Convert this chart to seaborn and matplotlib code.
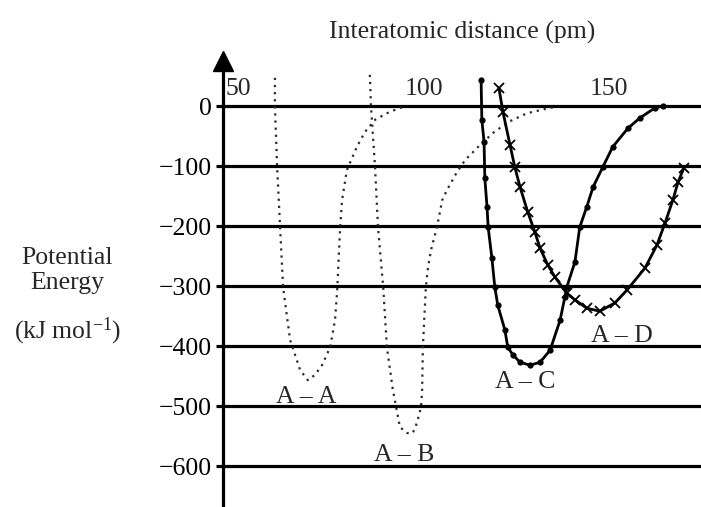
import matplotlib
matplotlib.use("Agg")
import matplotlib.pyplot as plt
import numpy as np
import pandas as pd
import seaborn as sns

# x tick values along the top (pm) and energy ticks (kJ/mol)
x_ticks = [50, 100, 150]
y_ticks = [0, -100, -200, -300, -400, -500, -600]

# A-A curve (dotted)
aa_x = [59.8, 59.8, 60.4, 61.2, 62.0, 63.9, 66.6, 68.7, 70.6, 72.5, 74.7, 76.0,
        76.6, 77.1, 77.4, 77.9, 79.2, 81.9, 84.1, 86.8, 90.0, 93.5, 94.9]
aa_e = [47, 0, -102, -202, -302, -390, -440, -457, -448, -432, -402, -357,
        -307, -240, -202, -157, -107, -68, -43, -23, -12, -3, -2]

# A-B curve (dotted)
ab_x = [85.4, 85.7, 86.8, 87.6, 89.0, 90.0, 91.6, 92.5, 93.5, 95.4, 97.0, 98.1,
        99.2, 99.5, 99.7, 100.5, 101.1, 101.9, 103.5, 104.9, 106.2, 108.9, 111.1,
        115.1, 118.6, 122.6, 127.8, 134.0, 135.3]
ab_e = [52, 0, -102, -202, -302, -402, -473, -502, -535, -545, -545, -528,
        -502, -473, -402, -302, -268, -240, -202, -157, -140, -110, -90,
        -65, -45, -27, -12, -3, -2]

# A-C curve (solid, dots)
ac_x = [115.4, 115.6, 116.2, 116.4, 117.0, 117.3, 118.3, 119.1, 119.9, 121.8, 122.6,
        124.0, 125.9, 128.6, 131.3, 134.0, 136.7, 138.0, 138.5, 140.7, 142.0, 143.9,
        145.6, 148.2, 150.9, 155.0, 158.2, 162.3, 164.4]
ac_e = [43, -23, -60, -120, -168, -202, -253, -302, -332, -373, -402,
        -415, -427, -432, -427, -407, -357, -318, -302, -260, -202, -168,
        -135, -102, -68, -37, -20, -3, 0]

# A-D curve (solid, crosses)
ad_x = [120.2, 121.3, 123.2, 124.5, 125.9, 128.0, 129.9, 131.3, 133.4, 135.3, 138.5,
        140.7, 143.9, 147.4, 151.5, 154.7, 159.6, 162.8, 165.0, 167.1, 168.5, 170.1]
ad_e = [30, -10, -65, -102, -135, -177, -210, -237, -265, -285, -312,
        -323, -337, -342, -328, -307, -270, -232, -195, -157, -127, -103]

bond_labels = ["A – A", "A – B", "A – C", "A – D"]
label_x = [68.2, 94.6, 127.2, 153.4]
label_e = [-485, -582, -460, -383]

sns.set_style("white")
plt.rcParams['font.family'] = ['Liberation Serif', 'DejaVu Serif']
plt.rcParams['mathtext.default'] = 'regular'
fs = 18.5

fig = plt.figure(figsize=(7.01, 5.07), dpi=100)
ax = fig.add_axes([223 / 701, 0, 1 - 223 / 701, 1])
xmin, xmax = 45.8, 174.7
ymin, ymax = -668.3, 176.7

dot_style = dict(color="#2a2a2a", lw=1.6, linestyle=(0, (1, 2.2)))
sns.lineplot(x=aa_x, y=aa_e, sort=False, estimator=None, ax=ax, **dot_style)
sns.lineplot(x=ab_x, y=ab_e, sort=False, estimator=None, ax=ax, **dot_style)
sns.lineplot(x=ac_x, y=ac_e, sort=False, estimator=None, ax=ax, color="black",
             lw=2.0, marker="o", markersize=4.5, markeredgewidth=0,
             markeredgecolor="black")
sns.lineplot(x=ad_x, y=ad_e, sort=False, estimator=None, ax=ax, color="black",
             lw=2.0, marker="x", markersize=7, markeredgewidth=1.3,
             markeredgecolor="black")

for lab, lx, le in zip(bond_labels, label_x, label_e):
    ax.text(lx, le, lab, ha="center", va="center", fontsize=fs)

ax.set_xlim(xmin, xmax)
ax.set_ylim(ymin, ymax)
ax.set_xticks([])
ax.set_yticks(y_ticks)
ax.grid(axis="y", color="black", lw=2.3)
ax.grid(axis="x", visible=False)
ax.set_axisbelow(True)
for s in ["top", "right", "bottom"]:
    ax.spines[s].set_visible(False)
ax.spines["left"].set_linewidth(2.3)
ax.spines["left"].set_color("black")
ax.spines["left"].set_bounds(ymin, 70)
ax.plot([xmin], [75], marker="^", markersize=15, color="black", clip_on=False)
ax.tick_params(axis="y", direction="out", length=5, width=2.3, pad=3,
               labelsize=fs, left=True, colors="black")
ax.set_xlabel("")
ax.set_ylabel("Potential\nEnergy", rotation=0, ha="center", va="center",
              fontsize=fs, linespacing=1.18)
ax.yaxis.set_label_coords(-0.326, 0.467)
ax.text(-0.326, 0.347, "(kJ mol$^{-1}$)", transform=ax.transAxes,
        ha="center", va="center", fontsize=fs)

# distance ticks sit just above the zero line
pos = (0 - ymin) / (ymax - ymin)
sec = ax.secondary_xaxis(pos)
sec.set_xticks(x_ticks)
sec.tick_params(length=0, pad=4, labelsize=fs)
for s in sec.spines.values():
    s.set_visible(False)
sec.set_xlabel("Interatomic distance (pm)", fontsize=fs, labelpad=29)

fig.savefig("out.png", dpi=100)
